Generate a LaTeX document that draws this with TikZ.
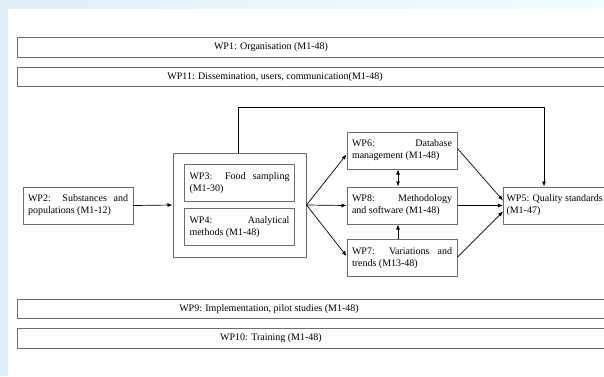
\documentclass[tikz,border=0pt]{standalone}
\usepackage{fontspec}
\setmainfont{Liberation Serif}
\usetikzlibrary{arrows.meta,fit}

\definecolor{pagebg}{RGB}{226,238,248}
\definecolor{boxline}{RGB}{110,110,110}

\tikzset{
    wpbox/.style={draw=boxline, line width=1pt, inner xsep=5pt, inner ysep=0pt,
        text width=100pt, align=justify, minimum height=37pt,
        font=\fontsize{10}{12}\selectfont},
    wpband/.style={draw=boxline, line width=1pt, minimum height=19.5pt,
        minimum width=600pt, anchor=west, inner sep=0pt},
    bandtext/.style={inner sep=0pt, font=\fontsize{10}{12}\selectfont},
    wparrow/.style={-{Latex[length=5pt,width=4pt]}, line width=0.7pt},
}

\begin{document}
\begin{tikzpicture}[x=1pt,y=-1pt]

    % page
    \useasboundingbox (0,0) rectangle (604,376);
    \clip (0,0) rectangle (604,376);
    \fill[pagebg] (0,0) rectangle (604,376);
    \shade[left color=pagebg, right color=cyan!6] (0,0) rectangle (604,9);
    \fill[white] (8,9) rectangle (604,376);

    % bands on top
    \node[wpband] (wp1) at (17,47.5) {};
    \node[bandtext] (wp1text) at (271,47.5) {WP1: Organisation (M1-48)};
    \node[wpband] (wp11) at (17,77) {};
    \node[bandtext] (wp11text) at (275,77) {WP11: Dissemination, users, communication(M1-48)};

    % substances
    \node[wpbox] (wp2) at (78,205.5) {WP2: Substances and\linebreak populations (M1-12)};

    % sampling and analysis
    \node[wpbox] (wp3) at (239.5,183) {WP3: Food sampling\linebreak (M1-30)};
    \node[wpbox] (wp4) at (239.5,227) {WP4: Analytical\linebreak methods (M1-48)};
    \node[draw=boxline, line width=1pt, inner sep=11pt, fit=(wp3)(wp4)] (wpgroup) {};
    \draw[wparrow] (wp2.east) -- (wpgroup.west);

    % database, methodology, trends
    \node[wpbox] (wp6) at (402,150.5) {WP6: Database\linebreak management (M1-48)};
    \node[wpbox] (wp8) at (402,205.5) {WP8: Methodology\linebreak and software (M1-48)};
    \node[wpbox] (wp7) at (402,258) {WP7: Variations and\linebreak trends (M13-48)};
    \draw[wparrow] (wpgroup.east) -- ([yshift=-4pt]wp6.west);
    \draw[wparrow] (wpgroup.east) -- (wp8.west);
    \draw[wparrow] (wpgroup.east) -- ([yshift=2pt]wp7.west);
    \draw[wparrow, {Latex[length=5pt,width=4pt]}-{Latex[length=5pt,width=4pt]}] ([xshift=-4pt]wp6.south) -- ([xshift=-4pt]wp8.north);
    \draw[wparrow] ([xshift=-4pt]wp7.north) -- ([xshift=-4pt]wp8.south);

    % quality
    \node[wpbox, anchor=west, inner xsep=3pt] (wp5) at (503,205.5) {WP5: Quality standards\\(M1-47)};
    \draw[wparrow] ([yshift=2pt]wp6.east) -- ([yshift=5pt]wp5.west);
    \draw[wparrow] (wp8.east) -- (wp5.west);
    \draw[wparrow] ([yshift=1pt]wp7.east) -- ([yshift=-6pt]wp5.west);
    \coordinate (bend) at (544,107);
    \draw[wparrow] ([xshift=-1.5pt]wpgroup.north) |- (bend) -- (bend |- wp5.north);

    % bands below
    \node[wpband] (wp9) at (17,309) {};
    \node[bandtext] (wp9text) at (269,309) {WP9: Implementation, pilot studies (M1-48)};
    \node[wpband] (wp10) at (17,338.5) {};
    \node[bandtext] (wp10text) at (271,338.5) {WP10: Training (M1-48)};

\end{tikzpicture}
\end{document}
